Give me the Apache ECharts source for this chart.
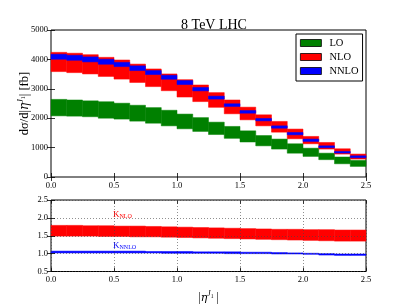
<!DOCTYPE html>
<html><head><meta charset="utf-8">
<script src="https://cdn.jsdelivr.net/npm/echarts@6/dist/echarts.min.js"></script>
<style>html,body{margin:0;padding:0;background:#fff}#c{width:407px;height:305px}</style>
</head><body><div id="c"></div>
<script>
// Bin edges in |eta^J1|
const binEdges = [0, 0.125, 0.25, 0.375, 0.5, 0.625, 0.75, 0.875, 1.0, 1.125, 1.25, 1.375, 1.5, 1.625, 1.75, 1.875, 2.0, 2.125, 2.25, 2.375, 2.5];
// dsigma/d|eta| [fb] scale bands
const LO_low   = [2080,2070,2050,2000,1970,1900,1830,1740,1640,1550,1445,1315,1190,1060,950,810,700,590,450,360];
const LO_high  = [2640,2620,2590,2560,2510,2440,2360,2270,2140,2020,1865,1720,1570,1410,1290,1130,980,810,680,565];
const NLO_low  = [3585,3550,3505,3420,3330,3215,3075,2935,2720,2565,2370,2150,1945,1740,1525,1300,1130,950,780,610];
const NLO_high = [4240,4210,4160,4070,3980,3840,3675,3505,3310,3130,2870,2620,2375,2115,1890,1630,1380,1175,960,780];
const NNLO_low = [4005,3970,3915,3835,3755,3620,3485,3325,3145,2930,2650,2400,2170,1910,1660,1435,1210,995,815,655];
const NNLO_high= [4175,4140,4085,4005,3900,3780,3620,3460,3280,3045,2750,2490,2260,1990,1740,1515,1290,1060,870,720];
// K-factor bands
const KNLO_low   = [1.49,1.49,1.49,1.48,1.48,1.47,1.47,1.46,1.45,1.44,1.43,1.42,1.41,1.40,1.39,1.38,1.37,1.36,1.35,1.35];
const KNLO_high  = [1.79,1.79,1.78,1.78,1.77,1.77,1.76,1.75,1.74,1.73,1.72,1.71,1.70,1.69,1.68,1.68,1.67,1.67,1.66,1.66];
const KNNLO_low  = [1.02,1.02,1.02,1.02,1.02,1.02,1.02,1.01,1.01,1.01,1.01,1.00,1.00,1.00,0.99,0.99,0.98,0.96,0.95,0.95];
const KNNLO_high = [1.07,1.07,1.07,1.07,1.07,1.07,1.06,1.06,1.06,1.05,1.05,1.05,1.04,1.04,1.03,1.02,1.01,1.00,0.99,0.99];
const seriesNames = ['LO', 'NLO', 'NNLO'];

const FONT = 'Liberation Serif';
const GREEN = '#008000', RED = '#ff0000', BLUE = '#0000ff';

function band(lo, hi) {
  return lo.map((v, i) => [binEdges[i], binEdges[i + 1], v, hi[i]]);
}
function renderBand(params, api) {
  const p0 = api.coord([api.value(0), api.value(3)]);
  const p1 = api.coord([api.value(1), api.value(2)]);
  const st = api.style();
  return {
    type: 'rect',
    shape: { x: p0[0], y: p0[1], width: p1[0] - p0[0], height: p1[1] - p0[1] },
    style: { fill: st.fill, stroke: st.fill, lineWidth: 0.5 }
  };
}
function mkSeries(name, data, color, xi, yi) {
  return {
    type: 'custom', name: name, xAxisIndex: xi, yAxisIndex: yi,
    renderItem: renderBand, data: data, itemStyle: { color: color },
    encode: { x: [0, 1], y: [2, 3] }, silent: true, animation: false
  };
}

const tickStyle = { show: true, inside: true, length: 4, lineStyle: { color: '#000', width: 0.8 } };
const lbl = { color: '#000', fontFamily: FONT, fontSize: 8.5 };
const fmt1 = v => v.toFixed(1);
const fmt0 = v => String(v);
const nameRich = {
  t: { fontFamily: FONT, fontSize: 12.5, color: '#000' },
  e: { fontFamily: 'DejaVu Serif', fontStyle: 'italic', fontSize: 12, color: '#000' },
  s: { fontFamily: FONT, fontStyle: 'italic', fontSize: 8, color: '#000', padding: [0, 0, 7, 0] },
  ss: { fontFamily: FONT, fontSize: 6, color: '#000', padding: [0, 0, 3, 0] }
};

const chart = echarts.init(document.getElementById('c'), null, { renderer: 'canvas' });
chart.setOption({
  animation: false,
  backgroundColor: '#fff',
  title: {
    text: '8 TeV LHC', left: 209, top: 13, textAlign: 'center',
    textStyle: { fontFamily: FONT, fontSize: 14, fontWeight: 'normal', color: '#000' }
  },
  legend: {
    data: seriesNames.map(n => ({ name: n, icon: 'rect' })),
    orient: 'vertical', left: 296, top: 34,
    itemWidth: 21, itemHeight: 7, itemGap: 2,
    padding: [3, 4, 4, 4],
    borderColor: '#000', borderWidth: 1,
    itemStyle: { borderColor: '#000', borderWidth: 0.8 },
    textStyle: { fontFamily: FONT, fontSize: 10.5, color: '#000', lineHeight: 12, padding: [0, 0, 0, 3] },
    selectedMode: false
  },
  grid: [
    { left: 51, top: 30, width: 315, height: 147, show: true, borderColor: '#000', borderWidth: 1, backgroundColor: 'transparent' },
    { left: 51, top: 200, width: 315, height: 74, show: true, borderColor: '#000', borderWidth: 1, backgroundColor: 'transparent' }
  ],
  xAxis: [
    { type: 'value', gridIndex: 0, min: 0, max: 2.5, interval: 0.5, axisLine: { show: false }, axisTick: tickStyle,
      axisLabel: Object.assign({ formatter: fmt1, margin: 4 }, lbl), splitLine: { show: false } },
    { type: 'value', gridIndex: 0, position: 'top', min: 0, max: 2.5, interval: 0.5, axisLine: { show: false }, axisTick: tickStyle,
      axisLabel: { show: false }, splitLine: { show: false } },
    { type: 'value', gridIndex: 1, min: 0, max: 2.5, interval: 0.5, z: 5, axisLine: { show: false }, axisTick: tickStyle,
      axisLabel: Object.assign({ formatter: fmt1, margin: 4 }, lbl),
      splitLine: { show: true, lineStyle: { color: '#444', width: 0.6, type: [1, 2] } },
      name: '{t||}{e|η}{s|J}{ss|1}{t| |}', nameLocation: 'middle', nameGap: 19,
      nameTextStyle: { color: '#000', fontFamily: FONT, fontSize: 11, rich: {
        t: { fontFamily: FONT, fontSize: 11.5, color: '#000' },
        e: { fontFamily: 'DejaVu Serif', fontStyle: 'italic', fontSize: 11, color: '#000' },
        s: { fontFamily: FONT, fontStyle: 'italic', fontSize: 7.5, color: '#000', padding: [0, 0, 7, 0] },
        ss: { fontFamily: FONT, fontSize: 5.5, color: '#000', padding: [0, 0, 3, 0] } } } },
    { type: 'value', gridIndex: 1, position: 'top', min: 0, max: 2.5, interval: 0.5, axisLine: { show: false }, axisTick: tickStyle,
      axisLabel: { show: false }, splitLine: { show: false } }
  ],
  yAxis: [
    { type: 'value', gridIndex: 0, min: 0, max: 5000, interval: 1000, axisLine: { show: false }, axisTick: tickStyle,
      axisLabel: Object.assign({ margin: 3, formatter: fmt0 }, lbl), splitLine: { show: false },
      name: '{t|dσ/d|}{e|η}{s|J}{ss|1}{t|| [fb]}', nameLocation: 'middle', nameGap: 19, nameRotate: 90,
      nameMoveOverlap: false,
      nameTextStyle: { color: '#000', fontFamily: FONT, fontSize: 12.5, rich: nameRich } },
    { type: 'value', gridIndex: 0, position: 'right', min: 0, max: 5000, interval: 1000, axisLine: { show: false }, axisTick: tickStyle,
      axisLabel: { show: false }, splitLine: { show: false } },
    { type: 'value', gridIndex: 1, min: 0.5, max: 2.5, interval: 0.5, z: 5, axisLine: { show: false }, axisTick: tickStyle,
      axisLabel: Object.assign({ formatter: fmt1, margin: 3 }, lbl),
      splitLine: { show: true, lineStyle: { color: '#444', width: 0.6, type: [1, 2] } } },
    { type: 'value', gridIndex: 1, position: 'right', min: 0.5, max: 2.5, interval: 0.5, axisLine: { show: false }, axisTick: tickStyle,
      axisLabel: { show: false }, splitLine: { show: false } }
  ],
  graphic: [
    { type: 'text', left: 113, top: 210, style: { text: '{k|K}{s|NLO}', fill: RED,
      rich: { k: { fontFamily: FONT, fontSize: 9, fill: RED }, s: { fontFamily: FONT, fontSize: 6, fill: RED, padding: [4, 0, 0, 0] } } } },
    { type: 'text', left: 113, top: 241, style: { text: '{k|K}{s|NNLO}', fill: BLUE,
      rich: { k: { fontFamily: FONT, fontSize: 9, fill: BLUE }, s: { fontFamily: FONT, fontSize: 6, fill: BLUE, padding: [4, 0, 0, 0] } } } }
  ],
  series: [
    mkSeries('LO', band(LO_low, LO_high), GREEN, 0, 0),
    mkSeries('NLO', band(NLO_low, NLO_high), RED, 0, 0),
    mkSeries('NNLO', band(NNLO_low, NNLO_high), BLUE, 0, 0),
    mkSeries('K_NLO', band(KNLO_low, KNLO_high), RED, 2, 2),
    mkSeries('K_NNLO', band(KNNLO_low, KNNLO_high), BLUE, 2, 2)
  ]
});
</script></body></html>
